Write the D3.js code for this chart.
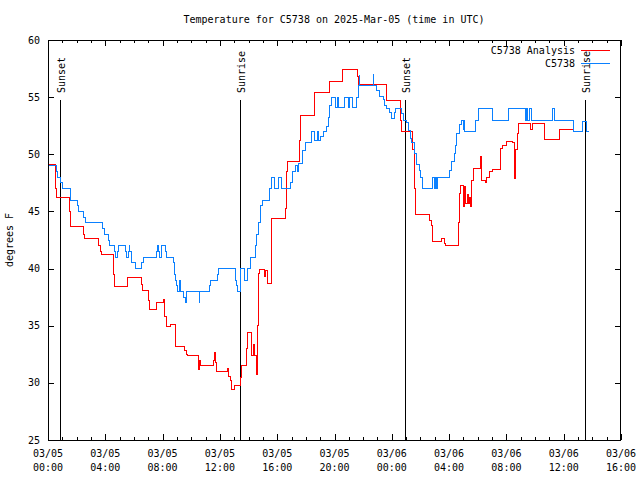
<!DOCTYPE html>
<html>
<head>
<meta charset="utf-8">
<script src="https://cdn.jsdelivr.net/npm/d3@7"></script>
<style>
  html, body { margin: 0; padding: 0; background: #fff; }
  svg { display: block; }
  text { font-family: "DejaVu Sans Mono", monospace; font-size: 10px; fill: #000; }
</style>
</head>
<body>
<svg id="chart" width="640" height="480"></svg>
<script>
// ---- data (hours since 2025-03-05 00:00 UTC, degrees F) ----
const titleText = "Temperature for C5738 on 2025-Mar-05 (time in UTC)";
const yLabelText = "degrees F";
const seriesNames = ["C5738 Analysis", "C5738"];
const yTicks = [25, 30, 35, 40, 45, 50, 55, 60];
const sunEventHours = [0.84, 13.40, 24.90, 37.47];
const sunEventLabels = ["Sunset", "Sunrise", "Sunset", "Sunrise"];

// C5738 Analysis (red)
const anaSteps = [[0,49.1],[0.51,48.4],[0.55,47.0],[0.60,46.25],[1.49,45.0],[1.58,43.7],[2.47,43.0],[2.56,42.6],[3.54,42.0],[3.65,41.5],[3.72,41.2],[4.56,39.5],[4.65,38.4],[5.54,38.8],[5.58,39.25],[6.56,38.6],[6.62,38.1],[7.00,37.2],[7.12,36.4],[7.54,37.0],[8.08,37.3],[8.12,37.0],[8.16,35.8],[8.24,34.9],[8.56,35.1],[8.87,33.2],[9.56,32.8],[9.65,32.5],[9.73,32.4],[10.50,31.2],[10.58,32.0],[10.64,31.5],[11.54,32.0],[11.60,32.7],[11.70,31.8],[11.73,31.0],[12.52,31.3],[12.60,30.6],[12.71,30.25],[12.82,29.45],[13.05,29.75],[13.47,30.5],[13.52,31.5],[13.87,33.0],[13.96,34.4],[14.18,32.4],[14.35,33.4],[14.45,32.4],[14.55,30.7],[14.62,35.0],[14.66,39.6],[14.75,39.9],[15.08,39.3],[15.20,39.8],[15.35,38.7],[15.59,44.4],[16.57,45.3],[16.65,48.5],[16.73,49.35],[17.59,51.25],[17.66,53.4],[18.57,55.4],[19.62,56.4],[20.57,57.4],[21.62,56.8],[21.70,56.1],[23.60,54.7],[24.62,53.0],[24.70,52.0],[25.46,50.4],[25.55,47.0],[25.64,44.7],[26.62,44.2],[26.75,43.8],[26.85,42.4],[27.48,42.6],[27.65,42.2],[27.78,42.0],[28.64,44.0],[28.70,46.6],[28.78,47.3],[29.00,45.4],[29.05,47.2],[29.15,45.7],[29.25,46.5],[29.35,45.7],[29.45,46.2],[29.52,45.4],[29.57,47.75],[29.69,48.8],[30.18,49.8],[30.25,47.75],[30.51,47.5],[30.62,48.0],[30.80,48.5],[31.05,48.7],[31.62,50.5],[31.74,50.8],[32.04,51.1],[32.40,51.0],[32.55,47.9],[32.66,50.4],[32.74,51.8],[32.83,52.7],[33.65,52.2],[33.80,52.7],[34.69,51.3],[35.68,52.2],[36.72,52.2]];

// C5738 observations (blue)
const obsSteps = [[0,49],[0.56,48.5],[0.65,48],[0.88,47.5],[1.02,47],[1.54,46.5],[1.58,46],[2.05,45.5],[2.14,45],[2.51,44.5],[2.61,44],[3.82,43.5],[3.91,43],[4.19,42.5],[4.28,42],[4.61,41.5],[4.70,41],[4.84,41.5],[4.89,42],[5.40,41.5],[5.45,41],[5.63,41.5],[5.68,42],[5.72,41.5],[5.80,41],[5.86,40.5],[6.10,40],[6.56,40.5],[6.66,41],[7.59,41.5],[7.63,42],[7.73,41.5],[7.80,41],[7.91,42],[8.19,41.5],[8.24,41],[8.75,40.5],[8.80,40],[8.85,39.5],[8.90,39],[8.98,38.5],[9.07,38],[9.21,39],[9.26,38],[9.49,37.5],[9.63,37],[9.68,38],[10.56,37],[10.61,38],[11.26,38.5],[11.31,39],[11.82,39.5],[11.87,40],[13.12,39],[13.17,38.5],[13.22,38],[13.47,40],[13.75,39],[13.96,40],[14.17,41],[14.47,42],[14.57,43],[14.71,44],[14.80,45.5],[14.94,46],[15.45,47],[15.57,48],[15.80,47],[16.10,48],[16.27,47],[16.96,47.5],[17.08,48.5],[17.25,49],[17.40,48.5],[17.48,49.2],[17.78,50.3],[18.01,51],[18.36,52],[18.62,51.2],[18.80,52],[18.87,51.2],[19.00,51.6],[19.20,52],[19.45,52.4],[19.55,53.2],[19.68,54.3],[19.80,55],[20.10,54.1],[20.20,55],[20.30,54.1],[20.73,55],[21.00,54.1],[21.06,55],[21.25,54.1],[21.54,55],[21.65,56],[21.72,56.9],[21.78,56],[22.71,57],[22.75,56],[22.94,55.6],[23.15,55.1],[23.40,54.8],[23.50,54.3],[23.64,54],[23.85,53.7],[23.99,53.1],[24.22,53.7],[24.29,54],[24.69,53.6],[24.85,53],[25.04,52.8],[25.15,52.1],[25.32,51.4],[25.39,51],[25.55,50.1],[25.74,49.1],[25.93,48.6],[26.00,48],[26.17,47],[26.87,48],[26.96,47],[27.03,48],[27.10,47],[27.22,48],[28.04,48.6],[28.20,49.4],[28.36,50.1],[28.43,50.8],[28.55,51.8],[28.70,52.6],[28.90,53],[28.98,52.2],[29.02,53],[29.06,52],[29.83,53],[30.06,54],[31.06,53],[32.16,54],[33.30,53],[33.40,54],[33.50,53],[33.60,54],[33.77,53],[35.22,54],[35.34,53],[36.67,52],[37.30,52.9],[37.60,52],[37.80,52]];

const colors = ["#ff0000", "#0a80ff"];

// ---- layout ----
const W = 640, H = 480;
const m = { left: 48, right: 19, top: 40, bottom: 40 };
const base = Date.UTC(2025, 2, 5, 0, 0);
const toDate = h => new Date(base + h * 3600000);

const x = d3.scaleUtc().domain([toDate(0), toDate(40)]).range([m.left, W - m.right]);
const y = d3.scaleLinear().domain([25, 60]).range([H - m.bottom, m.top]);

const svg = d3.select("#chart");

// title
svg.append("text").attr("x", 334).attr("y", 23).attr("text-anchor", "middle").text(titleText);

// y label
svg.append("text")
  .attr("transform", `translate(13,${(m.top + H - m.bottom) / 2}) rotate(-90)`)
  .attr("text-anchor", "middle").text(yLabelText);

const g = svg.append("g");

// ticks (inward, mirrored)
const majors = d3.utcHour.every(4).range(toDate(0), toDate(40.01));
const minors = d3.utcHour.every(1).range(toDate(0), toDate(40.01));
const tickG = g.append("g").attr("stroke", "#000").attr("stroke-width", 1).attr("shape-rendering", "crispEdges");
minors.forEach(d => {
  const isMajor = d.getUTCHours() % 4 === 0;
  const len = isMajor ? 6 : 3;
  const px = Math.round(x(d)) + 0.5;
  tickG.append("line").attr("x1", px).attr("x2", px).attr("y1", y(25)).attr("y2", y(25) - len);
  tickG.append("line").attr("x1", px).attr("x2", px).attr("y1", y(60)).attr("y2", y(60) + len);
});
yTicks.forEach(v => {
  const py = Math.round(y(v)) + 0.5;
  tickG.append("line").attr("x1", m.left).attr("x2", m.left + 6).attr("y1", py).attr("y2", py);
  tickG.append("line").attr("x1", W - m.right).attr("x2", W - m.right - 6).attr("y1", py).attr("y2", py);
});

// tick labels
const fmtD = d3.utcFormat("%m/%d"), fmtT = d3.utcFormat("%H:%M");
majors.forEach(d => {
  g.append("text").attr("x", x(d)).attr("y", 457).attr("text-anchor", "middle").text(fmtD(d));
  g.append("text").attr("x", x(d)).attr("y", 471).attr("text-anchor", "middle").text(fmtT(d));
});
yTicks.forEach(v => {
  g.append("text").attr("x", 40).attr("y", y(v) + 3.5).attr("text-anchor", "end").text(v);
});

// sunrise/sunset markers
sunEventHours.forEach((h, i) => {
  const px = Math.round(x(toDate(h))) + 0.5;
  g.append("line").attr("x1", px).attr("x2", px).attr("y1", 100).attr("y2", y(25))
    .attr("stroke", "#000").attr("stroke-width", 1).attr("shape-rendering", "crispEdges");
  g.append("text").attr("transform", `translate(${px + 4},93) rotate(-90)`)
    .attr("text-anchor", "start").text(sunEventLabels[i]);
});

// data lines
const line = d3.line().x(d => x(toDate(d[0]))).y(d => y(d[1])).curve(d3.curveStepAfter);
[anaSteps, obsSteps].forEach((s, i) => {
  g.append("path").attr("d", line(s)).attr("fill", "none")
    .attr("stroke", colors[i]).attr("stroke-width", 1).attr("shape-rendering", "crispEdges");
});

// border
svg.append("rect").attr("x", m.left + 0.5).attr("y", m.top + 0.5)
  .attr("width", W - m.left - m.right - 1).attr("height", H - m.top - m.bottom)
  .attr("fill", "none").attr("stroke", "#000").attr("shape-rendering", "crispEdges");

// legend
seriesNames.forEach((name, i) => {
  const ly = 50 + i * 13;
  svg.append("text").attr("x", 575).attr("y", ly + 3.5).attr("text-anchor", "end").text(name);
  svg.append("line").attr("x1", 581).attr("x2", 610).attr("y1", ly + 0.5).attr("y2", ly + 0.5)
    .attr("stroke", colors[i]).attr("stroke-width", 1).attr("shape-rendering", "crispEdges");
});
</script>
</body>
</html>
